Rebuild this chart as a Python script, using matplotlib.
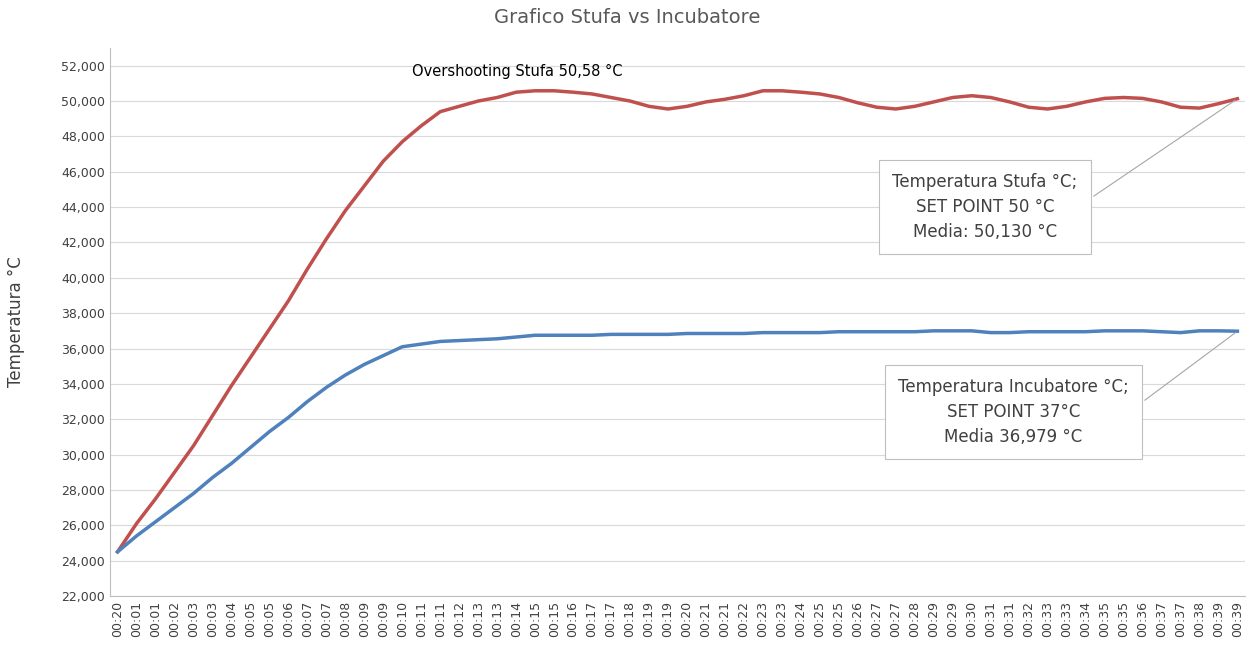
import matplotlib
matplotlib.use("Agg")
import matplotlib.pyplot as plt
from matplotlib.ticker import FuncFormatter

mins = [1,1,2,3,3,4,5,5,6,7,7,8,9,9,10,11,11,12,13,13,14,15,15,16,17,17,18,19,19,20,
        21,21,22,23,23,24,25,25,26,27,27,28,29,29,30,31,31,32,33,33,34,35,35,36,37,37,38,39,39]
labels = ["00:20"] + ["00:%02d" % m for m in mins]

stufa = [24.5,26.1,27.5,29.0,30.5,32.2,33.9,35.5,37.1,38.7,40.5,42.2,43.8,45.2,46.6,47.7,48.6,49.4,
         49.7,50.0,50.2,50.5,50.58,50.58,50.5,50.4,50.2,50.0,49.7,49.55,49.7,49.95,50.1,50.3,50.58,
         50.58,50.5,50.4,50.2,49.9,49.65,49.55,49.7,49.95,50.2,50.3,50.2,49.95,49.65,49.55,49.7,
         49.95,50.15,50.2,50.15,49.95,49.65,49.6,49.85,50.13]
incub = [24.5,25.4,26.2,27.0,27.8,28.7,29.5,30.4,31.3,32.1,33.0,33.8,34.5,35.1,35.6,36.1,36.25,
         36.4,36.45,36.5,36.55,36.65,36.75,36.75,36.75,36.75,36.8,36.8,36.8,36.8,36.85,36.85,36.85,
         36.85,36.9,36.9,36.9,36.9,36.95,36.95,36.95,36.95,36.95,37.0,37.0,37.0,36.9,36.9,36.95,
         36.95,36.95,36.95,37.0,37.0,37.0,36.95,36.9,37.0,37.0,36.98]

fig = plt.figure(figsize=(12.55, 6.53), dpi=100)
ax = fig.add_axes([110/1255, 57/653, 1135/1255, 548/653])
x = list(range(len(labels)))
ax.plot(x, stufa, color="#c0504d", lw=2.5)
ax.plot(x, incub, color="#4f81bd", lw=2.5)
ax.set_xlim(-0.4, len(labels)-0.6)
ax.set_ylim(22, 53)
ax.set_yticks(range(22, 53, 2))
ax.yaxis.set_major_formatter(FuncFormatter(lambda v, p: f"{int(v)},000"))
ax.set_xticks(x)
ax.set_xticklabels(labels, rotation=90, fontsize=9, color="#404040")
ax.tick_params(axis="y", labelsize=9, colors="#404040", length=0)
ax.tick_params(axis="x", length=0)
ax.grid(axis="y", color="#d9d9d9", lw=0.8)
ax.set_axisbelow(True)
for s in ["top", "right"]:
    ax.spines[s].set_visible(False)
for s in ["left", "bottom"]:
    ax.spines[s].set_color("#bfbfbf")
ax.set_ylabel("Temperatura °C", fontsize=12, color="#404040", labelpad=26)
fig.text(0.5, 0.965, "Grafico Stufa vs Incubatore", ha="center", fontsize=14, color="#595959")
ax.text(15.5, 51.4, "Overshooting Stufa 50,58 °C", fontsize=10.5, color="black")

box = dict(boxstyle="square,pad=0.8", fc="white", ec="#bfbfbf", lw=0.8)
ax.annotate("Temperatura Stufa °C;\nSET POINT 50 °C\nMedia: 50,130 °C", xy=(59, stufa[59]),
            xytext=(45.7, 44.0), ha="center", va="center", fontsize=12, color="#404040",
            bbox=box, linespacing=1.5,
            arrowprops=dict(arrowstyle="-", color="#a6a6a6", lw=0.8, relpos=(1, 0.5)))
ax.annotate("Temperatura Incubatore °C;\nSET POINT 37°C\nMedia 36,979 °C", xy=(59, incub[59]),
            xytext=(47.2, 32.4), ha="center", va="center", fontsize=12, color="#404040",
            bbox=box, linespacing=1.5,
            arrowprops=dict(arrowstyle="-", color="#a6a6a6", lw=0.8, relpos=(1, 0.5)))
fig.savefig("out.png", dpi=100)
